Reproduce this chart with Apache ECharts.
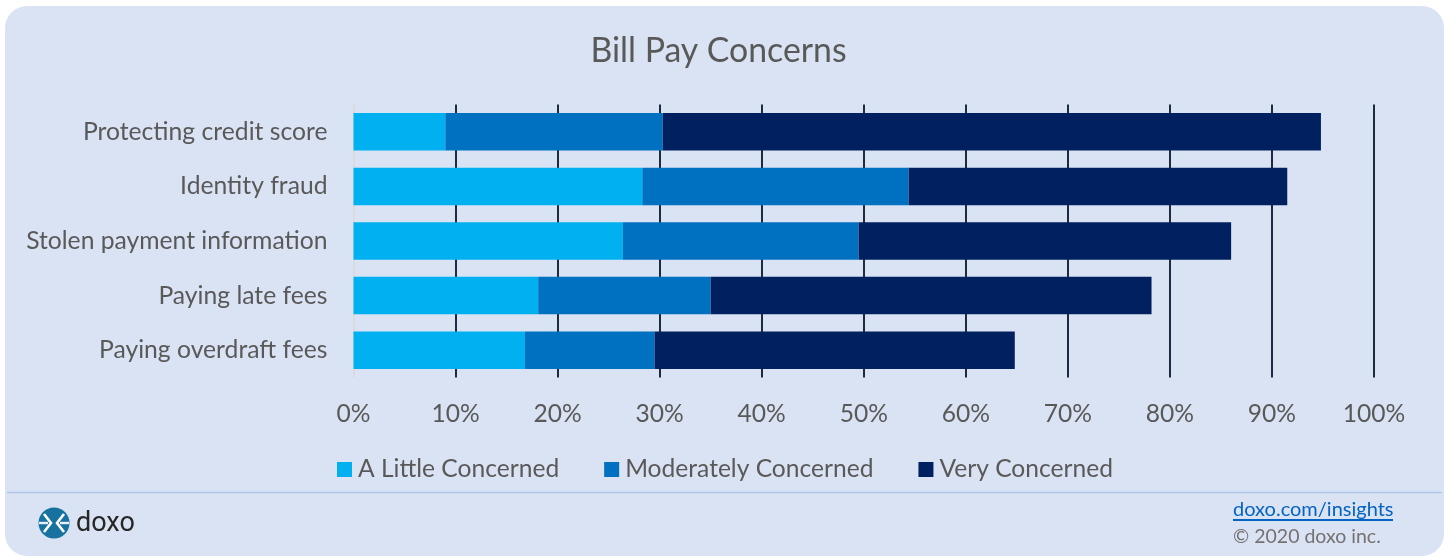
<!DOCTYPE html>
<html>
<head>
<meta charset="utf-8">
<style>html,body{margin:0;padding:0;background:#fff}#c{width:1448px;height:557px}</style>
<script src="https://cdn.jsdelivr.net/npm/echarts@6/dist/echarts.min.js"></script>
</head>
<body>
<div id="c"></div>
<script>
// Survey shares per concern, top row first
const categories = ['Protecting credit score', 'Identity fraud', 'Stolen payment information', 'Paying late fees', 'Paying overdraft fees'];
const littleConcerned = [9.0, 28.3, 26.4, 18.1, 16.8];
const moderatelyConcerned = [21.3, 26.1, 23.1, 16.9, 12.7];
const veryConcerned = [64.5, 37.1, 36.5, 43.2, 35.3];
const seriesNames = ['A Little Concerned', 'Moderately Concerned', 'Very Concerned'];
const seriesColors = ['#00B0F0', '#0070C0', '#002060'];
const seriesValues = [littleConcerned, moderatelyConcerned, veryConcerned];

const font = 'Lato, "Open Sans", sans-serif';
const textColor = '#595959';

const chart = echarts.init(document.getElementById('c'), null, {renderer: 'canvas'});

chart.setOption({
  animation: false,
  backgroundColor: '#ffffff',
  title: {
    text: 'Bill Pay Concerns', left: 713.5, top: 29, textAlign: 'center',
    textStyle: {fontFamily: font, fontSize: 33.8, fontWeight: 'normal', color: textColor}
  },
  legend: {
    left: 337, top: 457, padding: 0, itemWidth: 15, itemHeight: 15, itemGap: 45, icon: 'rect',
    textStyle: {fontFamily: font, fontSize: 24.6, color: textColor, padding: [0, 0, 0, 1]},
    data: seriesNames
  },
  grid: {left: 353.5, top: 104.5, width: 1020.5, height: 273},
  xAxis: {
    type: 'value', min: 0, max: 100, interval: 10,
    axisLine: {show: false},
    axisTick: {show: false},
    axisLabel: {formatter: '{value}%', fontFamily: font, fontSize: 24.6, color: textColor, margin: 24},
    splitLine: {show: true, showMinLine: false, lineStyle: {color: '#1c2b3f', width: 2}}
  },
  yAxis: {
    type: 'category', inverse: true, data: categories,
    axisLine: {show: true, lineStyle: {color: '#d9d9d9', width: 1.5}},
    axisTick: {show: false},
    axisLabel: {fontFamily: font, fontSize: 24.7, color: textColor, margin: 26, padding: [3, 0, 0, 0]}
  },
  series: seriesNames.map((name, i) => ({
    name, type: 'bar', stack: 'total', barWidth: 37.5, z: 3,
    itemStyle: {color: seriesColors[i]},
    data: seriesValues[i]
  })),
  graphic: [
    // Card, footer rule and brand footer
    {type: 'rect', z: -10, silent: true, shape: {x: 5, y: 6, width: 1439, height: 550, r: 22}, style: {fill: '#DAE3F3'}},
    {type: 'line', z: -9, silent: true, shape: {x1: 7, y1: 492.5, x2: 1442, y2: 492.5}, style: {stroke: '#AFC6E9', lineWidth: 1.5}},
    {type: 'circle', z: 5, silent: true, shape: {cx: 54, cy: 523, r: 15.5}, style: {fill: '#17729F'}},
    {type: 'line', z: 6, silent: true, shape: {x1: 39, y1: 523, x2: 48, y2: 523}, style: {stroke: '#EAF0F8', lineWidth: 2.4}},
    {type: 'line', z: 6, silent: true, shape: {x1: 60, y1: 523, x2: 69, y2: 523}, style: {stroke: '#EAF0F8', lineWidth: 2.4}},
    {type: 'polyline', z: 6, silent: true, shape: {points: [[44, 514], [51, 523], [44, 532]]}, style: {stroke: '#ffffff', fill: 'none', lineWidth: 2.6}},
    {type: 'polyline', z: 6, silent: true, shape: {points: [[64, 514], [57, 523], [64, 532]]}, style: {stroke: '#ffffff', fill: 'none', lineWidth: 2.6}},
    {type: 'text', z: 6, silent: true, x: 76, y: 510.5, style: {text: 'doxo', fontFamily: 'Roboto, sans-serif', fontSize: 27, fill: '#262626'}},
    {type: 'text', z: 6, silent: true, x: 1233, y: 500, style: {text: 'doxo.com/insights', fontFamily: font, fontSize: 20, fill: '#0563C1'}},
    {type: 'rect', z: 6, silent: true, shape: {x: 1233, y: 519, width: 160, height: 2}, style: {fill: '#0563C1'}},
    {type: 'text', z: 6, silent: true, x: 1233, y: 526.5, style: {text: '© 2020 doxo inc.', fontFamily: font, fontSize: 19.5, fill: '#757171'}}
  ]
});
</script>
</body>
</html>
